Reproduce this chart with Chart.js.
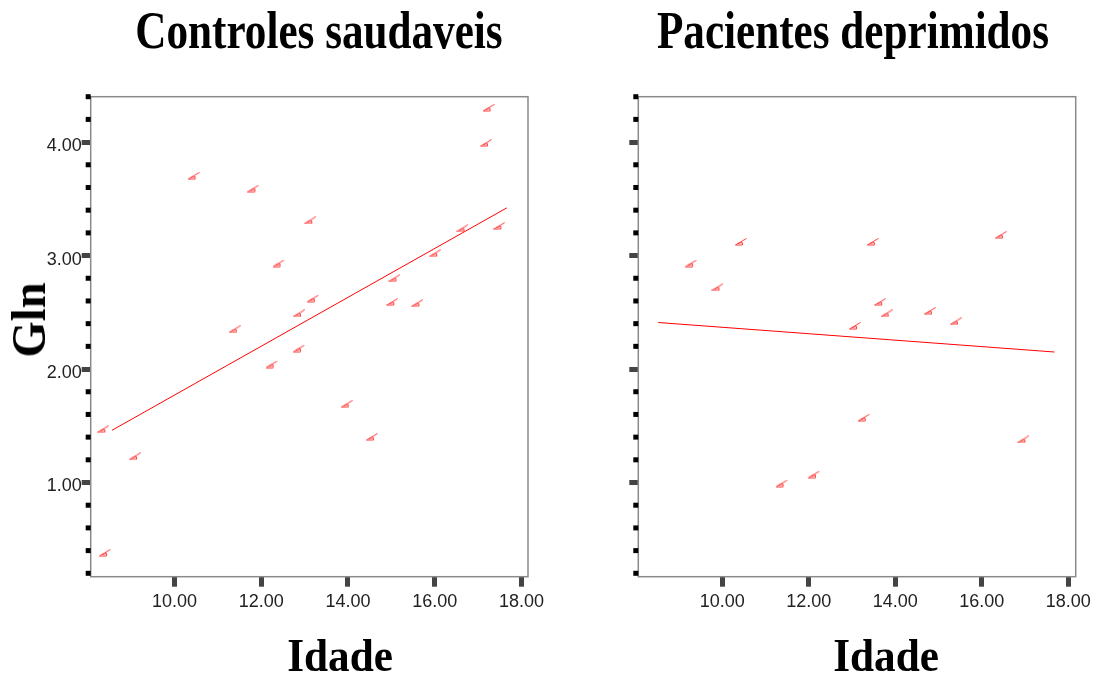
<!DOCTYPE html>
<html>
<head>
<meta charset="utf-8">
<script src="https://cdn.jsdelivr.net/npm/chart.js@4/dist/chart.umd.min.js"></script>
<style>
  html, body { margin: 0; padding: 0; background: #fff; overflow: hidden; }
  body { width: 1103px; height: 675px; position: relative; }
  .box { position: absolute; top: 0; height: 675px; }
  .big { position: absolute; white-space: nowrap; color: #000;
         font-family: 'Liberation Serif', 'Times New Roman', serif; font-weight: bold; }
  .head { font-size: 52px; line-height: 52px; top: 4.5px; transform: translateX(-50%) scaleX(.83); }
  .xt { font-size: 46px; line-height: 46px; top: 633px; transform: translateX(-50%) scaleX(.94); }
  .yt { font-size: 48px; line-height: 48px; transform: translate(-50%, -50%) rotate(-90deg) scaleX(.97); }
</style>
</head>
<body>
<div class="box" style="left:0;width:551px"><canvas id="healthyChart"></canvas></div>
<div class="box" style="left:551px;width:552px"><canvas id="depressedChart"></canvas></div>
<div class="big head" style="left:319px">Controles saudaveis</div>
<div class="big head" style="left:853px">Pacientes deprimidos</div>
<div class="big xt" style="left:340px">Idade</div>
<div class="big xt" style="left:886px">Idade</div>
<div class="big yt" style="left:29px;top:320px">Gln</div>
<script>
// Controles saudaveis
const healthyAge = [17.24, 17.18, 10.44, 11.82, 13.13, 16.64, 17.49, 12.40, 16.01, 15.07, 13.19,
                    15.02, 15.60, 12.87, 11.39, 12.87, 12.24, 8.36, 9.09, 13.97, 14.55, 8.40];
const healthyGln = [4.30, 3.99, 3.70, 3.59, 3.31, 3.24, 3.26, 2.93, 3.02, 2.80, 2.62,
                    2.59, 2.58, 2.49, 2.35, 2.18, 2.04, 1.47, 1.23, 1.69, 1.40, 0.38];
const healthyFitAge = [8.56, 17.66];
const healthyFitGln = [1.46, 3.42];

// Pacientes deprimidos
const depressedAge = [10.43, 13.48, 16.44, 9.28, 9.89, 13.65, 13.80, 14.80, 15.40, 13.07,
                      13.27, 16.96, 12.12, 11.37];
const depressedGln = [3.12, 3.12, 3.18, 2.93, 2.72, 2.59, 2.49, 2.51, 2.42, 2.38,
                      1.57, 1.38, 1.07, 0.99];
const depressedFitAge = [8.52, 17.68];
const depressedFitGln = [2.41, 2.15];

const xTicks = [10, 12, 14, 16, 18];

const isMajor = v => Math.abs(v - Math.round(v)) < 1e-6;
const toPoints = (xs, ys) => xs.map((x, i) => ({ x: x, y: ys[i] }));

// little pencil-like marker used by SPSS
function makeMarker() {
    const c = document.createElement('canvas');
    c.width = 12; c.height = 8;
    const g = c.getContext('2d');
    g.strokeStyle = '#ff3b3b';
    g.lineWidth = 1;
    g.beginPath();
    g.moveTo(0.5, 7); g.lineTo(11.5, 0.5);
    g.moveTo(0.5, 7); g.lineTo(7.5, 7);
    g.moveTo(3, 5.5); g.lineTo(7.5, 4.5);
    g.moveTo(7.5, 4.5); g.lineTo(7.5, 7);
    g.stroke();
    return c;
}
const marker = makeMarker();

const framePlugin = {
    id: 'frame',
    afterDraw(chart) {
        const { ctx, chartArea: a } = chart;
        const y = chart.scales.y;
        ctx.save();
        ctx.strokeStyle = '#8a8a8a';
        ctx.lineWidth = 1.5;
        ctx.strokeRect(a.left, a.top, a.right - a.left, a.bottom - a.top);
        // short black minor ticks
        ctx.fillStyle = '#000';
        y.ticks.forEach((t, i) => {
            if (!isMajor(t.value)) {
                const py = y.getPixelForTick(i);
                ctx.fillRect(a.left - 5, py - 2.5, 5, 5);
            }
        });
        ctx.restore();
    }
};

function makeChart(id, age, gln, fitAge, fitGln, opts) {
    new Chart(document.getElementById(id), {
        type: 'scatter',
        data: {
            datasets: [
                {
                    data: toPoints(age, gln),
                    pointStyle: marker,
                    pointRadius: 5,
                    pointHoverRadius: 5
                },
                {
                    data: toPoints(fitAge, fitGln),
                    showLine: true,
                    borderColor: '#ff0000',
                    borderWidth: 1,
                    pointRadius: 0
                }
            ]
        },
        options: {
            responsive: true,
            maintainAspectRatio: false,
            animation: false,
            layout: { padding: { left: 0, top: 96.7, right: opts.padRight, bottom: 0 } },
            plugins: { legend: { display: false }, tooltip: { enabled: false } },
            scales: {
                x: {
                    type: 'linear',
                    min: opts.xMin,
                    max: opts.xMax,
                    afterBuildTicks: s => { s.ticks = xTicks.map(v => ({ value: v })); },
                    afterFit: s => { s.height = 675 - 576.7; },
                    border: { display: false },
                    grid: { drawOnChartArea: false, tickLength: 10, tickWidth: 5, tickColor: '#444' },
                    ticks: {
                        padding: 5,
                        color: '#222',
                        font: { family: "'Liberation Sans', Arial, sans-serif", size: 18 },
                        callback: v => v.toFixed(2)
                    }
                },
                y: {
                    type: 'linear',
                    min: 0.17,
                    max: 4.4,
                    afterFit: s => { s.width = opts.yWidth; },
                    border: { display: false },
                    grid: {
                        drawOnChartArea: false,
                        tickLength: 9,
                        tickWidth: 5,
                        tickColor: c => isMajor(c.tick.value) ? '#444' : 'rgba(0,0,0,0)'
                    },
                    ticks: {
                        stepSize: 0.2,
                        includeBounds: false,
                        autoSkip: false,
                        padding: 0,
                        labelOffset: 4,
                        color: '#222',
                        font: { family: "'Liberation Sans', Arial, sans-serif", size: 18 },
                        callback: v => (opts.yLabels && isMajor(v)) ? v.toFixed(2) : ''
                    }
                }
            }
        },
        plugins: [framePlugin]
    });
}

makeChart('healthyChart', healthyAge, healthyGln, healthyFitAge, healthyFitGln,
    { xMin: 8.07, xMax: 18.15, yWidth: 90.7, padRight: 23, yLabels: true });
makeChart('depressedChart', depressedAge, depressedGln, depressedFitAge, depressedFitGln,
    { xMin: 8.06, xMax: 18.17, yWidth: 87.3, padRight: 27.3, yLabels: false });
</script>
</body>
</html>
